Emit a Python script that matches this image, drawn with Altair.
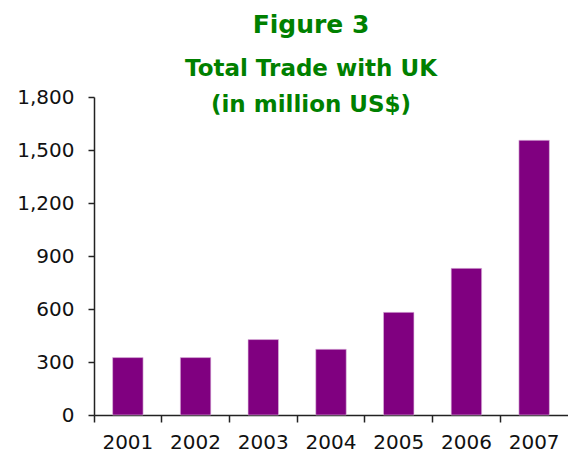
import altair as alt
import pandas as pd

years = ["2001", "2002", "2003", "2004", "2005", "2006", "2007"]
values = [325, 325, 427, 372, 581, 830, 1555]
y_ticks = [0, 300, 600, 900, 1200, 1500, 1800]

df = pd.DataFrame({"year": years, "value": values})

chart = alt.Chart(df).mark_bar(
    color="#800080", stroke="#e0c0e0", strokeWidth=0.6,
    width=alt.RelativeBandSize(0.45),
).encode(
    x=alt.X("year:N", title=None, sort=years,
            scale=alt.Scale(paddingInner=0, paddingOuter=0),
            axis=alt.Axis(labelAngle=0, labelFont="DejaVu Sans", labelFontSize=20,
                          labelColor="#111", labelPadding=10, domainColor="#222",
                          tickColor="#222", tickSize=7, bandPosition=0,
                          domainWidth=1.5, tickWidth=1.5)),
    y=alt.Y("value:Q", title=None,
            scale=alt.Scale(domain=[0, 1800], nice=False),
            axis=alt.Axis(values=y_ticks, format=",d", grid=False,
                          labelFont="DejaVu Sans", labelFontSize=20, labelColor="#111",
                          labelPadding=14, domainColor="#222", tickColor="#222",
                          tickSize=6, domainWidth=1.5, tickWidth=1.5)),
).properties(
    width=474,
    height=318,
    padding={"left": 86, "top": 89, "right": 0, "bottom": 38},
    autosize=alt.AutoSizeParams(type="none"),
    title=alt.TitleParams(
        text="Figure 3",
        subtitle=["Total Trade with UK", "(in million US$)"],
        font="DejaVu Sans", subtitleFont="DejaVu Sans",
        fontSize=25, subtitleFontSize=23,
        fontWeight="bold", subtitleFontWeight="bold",
        color="#008000", subtitleColor="#008000",
        anchor="middle", dx=-20, subtitlePadding=20, subtitleLineHeight=36,
        offset=-30,
    ),
).configure_view(stroke=None)

chart.save("out.html", embed_options={"renderer": "svg", "actions": False})
